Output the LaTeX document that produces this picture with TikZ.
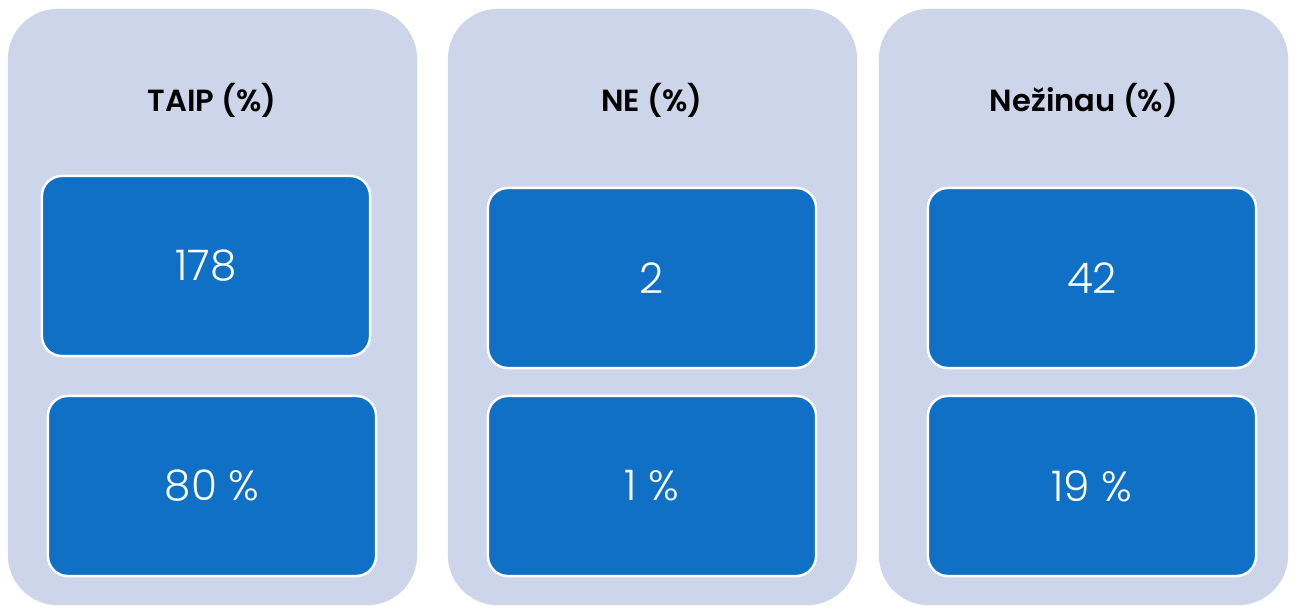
\documentclass[tikz,border=0pt]{standalone}
\usepackage{fontspec}
\setmainfont{Poppins}[UprightFont=* Light,BoldFont=* SemiBold]
\usetikzlibrary{positioning}
\definecolor{panel_gray}{RGB}{205,213,234}
\definecolor{box_blue}{RGB}{16,112,198}

\begin{document}
\begin{tikzpicture}[x=0.01cm,y=-0.01cm]
    \tikzstyle{panel}=[fill=panel_gray, draw=none, rounded corners=0.5cm, minimum width=4.09cm, minimum height=5.96cm, inner sep=0pt]
    \tikzstyle{title}=[text=black, font=\bfseries\fontsize{8.7}{10}\selectfont]
    \tikzstyle{valbox}=[fill=box_blue, draw=white, line width=0.7pt, rounded corners=0.2cm, minimum width=3.28cm, minimum height=1.8cm, inner sep=0pt, text=white, font=\fontsize{12}{14}\selectfont]

    \useasboundingbox[fill=white] (0,0) rectangle (1296,606);

    % panels
    \node[panel] (P1) at (212.5,307) {};
    \node[panel] (P2) at (652.5,307) {};
    \node[panel] (P3) at (1083.5,307) {};

    % titles
    \node[title] (T1) at (212,100) {TAIP (\%)};
    \node[title] (T2) at (652,100) {NE (\%)};
    \node[title] (T3) at (1084,100) {Nežinau (\%)};

    % counts
    \node[valbox] (C1) at (206,266)  {178};
    \node[valbox] (C2) at (652,278)  {2};
    \node[valbox] (C3) at (1092,278) {42};

    % shares
    \node[valbox] (S1) at (212,486)  {80 \%};
    \node[valbox] (S2) at (652,486)  {1 \%};
    \node[valbox] (S3) at (1092,486) {19 \%};
\end{tikzpicture}
\end{document}
